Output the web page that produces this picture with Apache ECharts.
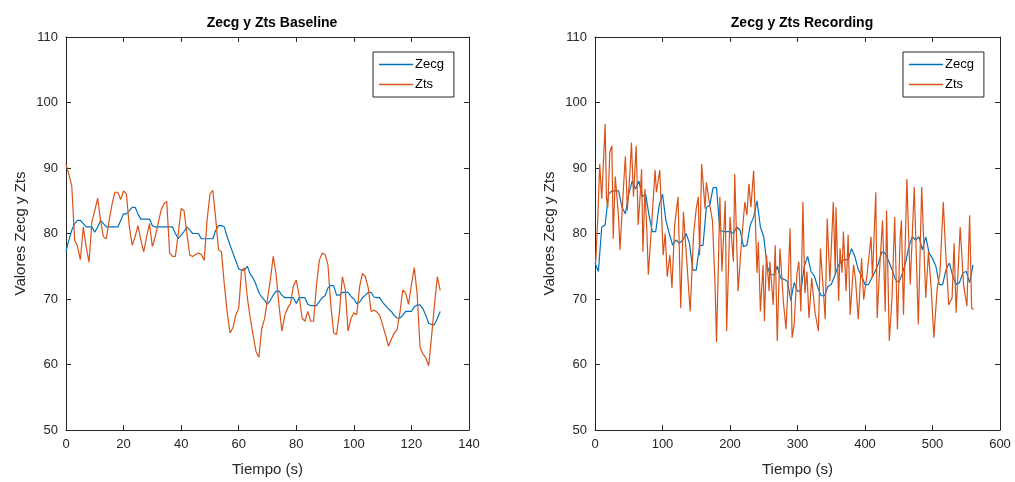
<!DOCTYPE html>
<html>
<head>
<meta charset="utf-8">
<script src="https://cdn.jsdelivr.net/npm/echarts@6/dist/echarts.min.js"></script>
<style>html,body{margin:0;padding:0;background:#fff}#c{width:1015px;height:482px}</style>
</head>
<body>
<div id="c"></div>
<script>
// ---- Baseline (left panel), 1 sample per second, t = 0..130 ----
const baseTime = Array.from({length: 131}, (_, i) => i);
const baseZecg = [
77.3,79,80.5,81.5,82,82,81.5,81,81,81,80.2,81,82,81.5,81,81,81,81,81,82,
83,83,83.5,84,84,83,82.2,82.2,82.2,82.2,81.2,81,81,81,81,81,81,81,80,79.2,
79.8,80.3,81,80.5,80,80,80,79.2,79.2,79.2,79.2,79.2,80.5,81.2,81.2,81,79.5,78.2,77,75.8,
74.6,74.4,74.4,75,73.8,73.2,72.2,71,70.3,69.8,69.2,69.8,70.6,71.2,71.2,70.6,70.2,70.2,70.2,70.2,
69.3,70.2,70.2,70.2,69.2,69,69,69,69.6,70.2,70.5,71.7,72.1,72,70.6,70.6,71,71,71,70.4,
70,69.3,69.5,70.2,70.6,71,71,70.3,70.2,70.2,69.5,69,68.5,68.1,67.5,67.1,67.1,67.5,68.1,68.1,
68.1,68.8,69.1,69.1,68.5,67.5,66.3,66.1,66.1,67,68.1
];
const baseZts = [
90.6,89,87.3,79,78,76,81,78,75.6,81.8,83.5,85.4,82,79.5,79.2,82,84.5,86.3,86.3,85.2,
86.5,86,81,78.2,79.5,81.2,79,77.2,79.5,81.5,78,79.5,81.5,83.5,84.5,84.9,77,76.5,76.5,80,
83.8,83.5,80,76.7,76.5,76.8,77,76.8,75.9,82,86,86.6,82.3,77.5,77.2,72.2,68,64.8,65.6,67.6,
68.6,74.4,74.7,70.2,67.1,64.5,62,61.1,65.5,67,70,73,76.5,73.7,69,65.1,67.5,68.6,69.3,72,
72.9,70.5,67.1,66.6,68.1,66.6,66.6,72,75.9,77,76.8,75.2,69,64.8,64.6,68,73.4,71.5,65.1,67,
67.9,67.6,71.9,73.9,73.4,71.7,68.1,68.3,68,67.5,66,64.5,62.8,63.8,64.8,65.3,67.9,71.4,70.9,69.2,
72.2,74.8,70.7,62.6,61.6,61,59.8,64.3,69.1,73.4,71.3
];

// ---- Recording (right panel) ----
const recEcgTime = Array.from({length: 113}, (_, i) => i * 5);
const recZecg = [
75.5,74.2,81,81.3,86,86.5,86.5,86.5,84,83,86,88,86.8,88,85.6,86,82.8,80.3,80.3,84.3,
86,82,80,78.2,79,78.5,79,80,78.5,74.4,74.4,78.2,78.2,84,84.3,87,87,80.5,80.3,80.3,
80.3,80,81,80.5,78,78.2,81.3,82.5,85,81,79.5,75,73.7,73.7,75,73.2,73,72.7,69.8,72.5,
71.2,71.2,75,76.5,74.2,73.5,71.8,70.5,70.5,71.9,72.2,73.5,75,75.8,76,76,77.7,76.5,74.5,73.5,
72.2,72.2,73.2,74.2,75.5,77.2,77,75.8,74.5,73,72.5,73.8,75.5,78,79.5,79,79.5,77.5,79.5,77,
76.2,75,72.2,72.2,74.5,75.5,73.5,72.2,72.5,74,74.2,72.5,75.2
];
const recTsTime = [
1,4,7,10,13,15,17,19,22,25,27,30,33,35,37,40,42,45,48,52,
54,57,61,64,67,69,71,74,77,79,84,89,91,96,101,104,107,111,114,118,
123,127,131,136,141,146,150,153,155,158,163,165,170,174,178,180,183,185,188,193,
195,200,205,207,212,217,222,225,228,231,235,237,240,242,245,249,251,254,258,259,
264,267,270,274,279,283,286,289,292,295,299,302,305,308,311,314,317,321,326,331,
334,338,341,344,348,353,356,357,361,363,366,368,372,375,378,383,386,390,395,398,
403,409,411,416,418,422,426,430,432,436,440,444,448,452,454,457,462,467,473,479,
484,490,494,498,502,507,511,516,519,524,529,532,535,541,546,551,555,558,561
];
const recZts = [
75.5,82,90.6,85.3,92,96.7,85.3,84,92.4,93.4,79.2,88.7,85,82.3,77.5,83,86.8,91.8,83.5,89.8,
93.9,85.6,93.4,81.3,86,89.8,77.2,86.8,80,73.7,81.5,89.7,86.3,89.7,76.7,80,73.4,76.7,71.7,81.3,
85.6,68.6,83.3,75.7,68.1,79.8,83.8,85.6,76.7,90.6,83.8,87.8,84.3,82,71.7,63.4,76.2,85.6,74.2,85,
65.1,82.5,75.7,89.1,71.2,78.7,84.8,82.8,87.6,84,89.6,83.8,74,78.7,68.1,75.2,66.6,76.7,71.2,75.7,
69.1,78.2,63.6,77.7,69.7,65.4,72.2,80.8,64.1,66,73.7,75.7,68.1,84.8,70.9,74.2,67.1,73.2,67.9,65.1,
77.7,71.7,66.9,82.3,72.7,84.8,73.7,84,69.7,77.7,74,80.3,71.2,79.8,67.6,75.2,73,66.9,76.2,69.9,
73.7,79.5,73.2,86.3,67.1,75.2,82,68.1,83.5,63.6,70.2,82.5,65.4,79.2,82,67.6,88.3,72.2,87.1,66.1,
87.1,70.2,77.2,71.7,64.1,71.7,74,84.8,78.2,69.1,70.2,78.5,67.9,81,72.2,68.9,82.8,68.6,68.4
];

const titles = ['Zecg y Zts Baseline', 'Zecg y Zts Recording'];
const seriesNames = ['Zecg', 'Zts'];
const yTicks = {min: 50, max: 110, interval: 10};
const xTicksBase = {min: 0, max: 140, interval: 20};
const xTicksRec = {min: 0, max: 600, interval: 100};

const BLUE = '#0072BD', ORANGE = '#D95319', AX = '#262626';
const FONT = '"Liberation Sans", Arial, Helvetica, sans-serif';

function zip(t, v) { return t.map((x, i) => [x, v[i]]); }

const grids = [
  {left: 66, top: 37, width: 403, height: 396},
  {left: 595, top: 37, width: 405, height: 396}
];

function mainX(g, r, name) {
  return {type: 'value', gridIndex: g, min: r.min, max: r.max, interval: r.interval, position: 'bottom',
    name: name, nameLocation: 'middle', nameGap: 32,
    nameTextStyle: {fontFamily: FONT, fontSize: 15, color: AX},
    axisLine: {show: true, lineStyle: {color: AX, width: 1}},
    axisTick: {show: true, inside: true, length: 5, lineStyle: {color: AX}},
    axisLabel: {fontFamily: FONT, fontSize: 13, color: AX, margin: 8},
    splitLine: {show: false}};
}
function topX(g, r) {
  return {type: 'value', gridIndex: g, min: r.min, max: r.max, interval: r.interval, position: 'top',
    axisLine: {show: true, onZero: false, lineStyle: {color: AX, width: 1}},
    axisTick: {show: true, inside: true, length: 5, lineStyle: {color: AX}},
    axisLabel: {show: false}, splitLine: {show: false}};
}
function mainY(g) {
  return {type: 'value', gridIndex: g, min: yTicks.min, max: yTicks.max, interval: yTicks.interval, position: 'left',
    name: 'Valores Zecg y Zts', nameLocation: 'middle', nameGap: 38, nameRotate: 90,
    nameTextStyle: {fontFamily: FONT, fontSize: 15, color: AX},
    axisLine: {show: true, onZero: false, lineStyle: {color: AX, width: 1}},
    axisTick: {show: true, inside: true, length: 5, lineStyle: {color: AX}},
    axisLabel: {fontFamily: FONT, fontSize: 13, color: AX, margin: 8},
    splitLine: {show: false}};
}
function rightY(g) {
  return {type: 'value', gridIndex: g, min: yTicks.min, max: yTicks.max, interval: yTicks.interval, position: 'right',
    axisLine: {show: true, onZero: false, lineStyle: {color: AX, width: 1}},
    axisTick: {show: true, inside: true, length: 5, lineStyle: {color: AX}},
    axisLabel: {show: false}, splitLine: {show: false}};
}
function line(name, data, color, xi, yi) {
  return {type: 'line', name: name, data: data, xAxisIndex: xi, yAxisIndex: yi,
    showSymbol: false, symbol: 'none', animation: false,
    lineStyle: {color: color, width: 1.2}, itemStyle: {color: color}};
}
function legend(left) {
  return {left: left, top: 52, orient: 'vertical', data: seriesNames, icon: 'rect',
    itemWidth: 34, itemHeight: 1.5, itemGap: 7, padding: [6, 10, 6, 6],
    borderColor: AX, borderWidth: 1, backgroundColor: '#fff',
    textStyle: {fontFamily: FONT, fontSize: 13, color: '#000', padding: [0, 0, 0, -3]},
    selectedMode: false};
}

const chart = echarts.init(document.getElementById('c'), null, {renderer: 'canvas'});
chart.setOption({
  animation: false,
  backgroundColor: '#fff',
  title: [
    {text: titles[0], left: 267, top: 11, textAlign: 'center',
      textStyle: {fontFamily: FONT, fontSize: 14, fontWeight: 'bold', color: '#000'}},
    {text: titles[1], left: 797, top: 11, textAlign: 'center',
      textStyle: {fontFamily: FONT, fontSize: 14, fontWeight: 'bold', color: '#000'}}
  ],
  legend: [legend(373), legend(903)],
  grid: grids,
  xAxis: [mainX(0, xTicksBase, 'Tiempo (s)'), topX(0, xTicksBase), mainX(1, xTicksRec, 'Tiempo (s)'), topX(1, xTicksRec)],
  yAxis: [mainY(0), rightY(0), mainY(1), rightY(1)],
  series: [
    line('Zecg', zip(baseTime, baseZecg), BLUE, 0, 0),
    line('Zts', zip(baseTime, baseZts), ORANGE, 0, 0),
    line('Zecg', zip(recEcgTime, recZecg), BLUE, 2, 2),
    line('Zts', zip(recTsTime, recZts), ORANGE, 2, 2)
  ]
});
</script>
</body>
</html>
